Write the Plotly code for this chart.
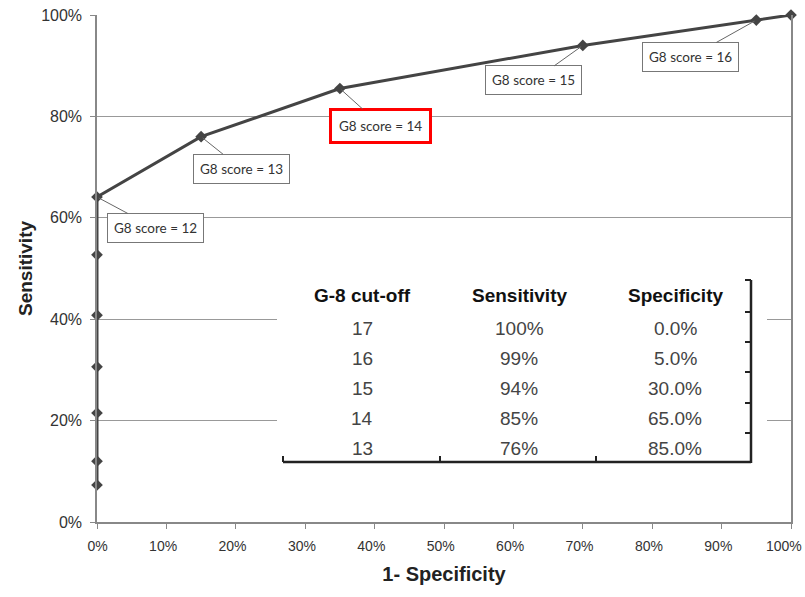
import plotly.graph_objects as go

# ROC curve points (1-specificity, sensitivity)
fpr = [0.0, 0.0, 0.0, 0.0, 0.0, 0.0, 0.0, 0.15, 0.35, 0.70, 0.95, 1.0]
tpr = [0.073, 0.12, 0.215, 0.306, 0.408, 0.527, 0.641, 0.76, 0.855, 0.94, 0.99, 1.0]

# Callout labels: index into the points, text, offset of label box (px)
label_idx = [6, 7, 8, 9, 10]
label_txt = ["G8 score = 12", "G8 score = 13", "G8 score = 14", "G8 score = 15", "G8 score = 16"]
label_ax = [58, 40, 41, -49, -66]
label_ay = [31, 32, 37, 35, 37]
highlight = "G8 score = 14"

# Inset table
tbl_header = ["G-8 cut-off", "Sensitivity", "Specificity"]
tbl_cutoff = ["17", "16", "15", "14", "13"]
tbl_sens = ["100%", "99%", "94%", "85%", "76%"]
tbl_spec = ["0.0%", "5.0%", "30.0%", "65.0%", "85.0%"]

x_ticks = [i / 10 for i in range(11)]
x_ticklabels = [f"{i*10}%" for i in range(11)]
y_ticks = [i / 5 for i in range(6)]
y_ticklabels = [f"{i*20}%" for i in range(6)]

L, R, T, B = 97, 14, 15, 75
W, H = 805, 597
PW, PH = W - L - R, H - T - B

def px(x):
    return (x - L) / PW

def py(y):
    return (H - B - y) / PH

fig = go.Figure()
fig.add_trace(go.Scatter(
    x=fpr, y=tpr, mode="lines+markers", cliponaxis=False,
    line=dict(color="#444444", width=3),
    marker=dict(symbol="diamond", size=9, color="#444444"),
    showlegend=False, hoverinfo="skip",
))

annotations = []
for i, t, ax, ay in zip(label_idx, label_txt, label_ax, label_ay):
    hl = (t == highlight)
    annotations.append(dict(
        x=fpr[i], y=tpr[i], xref="x", yref="y", text=t,
        showarrow=True, arrowhead=0, arrowwidth=1, arrowcolor="#666",
        ax=ax, ay=ay, standoff=2,
        font=dict(family="Lato, Open Sans, sans-serif", size=13.5, color="#333"),
        bgcolor="white", bordercolor="red" if hl else "#777",
        borderwidth=3 if hl else 1, borderpad=7 if hl else 6,
    ))

# table
col_x = [362, 519, 675]
head_y = 295
row_y = [328, 358, 388, 418, 448]
for cx, h in zip(col_x, tbl_header):
    annotations.append(dict(
        x=px(cx), y=py(head_y), xref="x", yref="y", text=f"<b>{h}</b>",
        showarrow=False, font=dict(family="Liberation Sans, Arial", size=19, color="#111"),
    ))
for col, cx in zip([tbl_cutoff, tbl_sens, tbl_spec], col_x):
    for v, ry in zip(col, row_y):
        annotations.append(dict(
            x=px(cx), y=py(ry), xref="x", yref="y", text=v,
            showarrow=False, font=dict(family="Liberation Sans, Arial", size=19, color="#444"),
        ))

shapes = [
    dict(type="rect", xref="x", yref="y", x0=px(277), x1=px(767), y0=py(470), y1=py(272),
         fillcolor="white", line=dict(width=0), layer="above"),
    dict(type="line", xref="x", yref="y", x0=px(283), x1=px(751), y0=py(462), y1=py(462),
         line=dict(color="#222", width=2.5), layer="above"),
    dict(type="line", xref="x", yref="y", x0=px(751), x1=px(751), y0=py(463), y1=py(280),
         line=dict(color="#222", width=2.5), layer="above"),
]
for tx in [283, 440, 596]:
    shapes.append(dict(type="line", xref="x", yref="y", x0=px(tx), x1=px(tx), y0=py(462), y1=py(456),
                       line=dict(color="#222", width=2), layer="above"))
for ty in [280, 312, 342, 372, 403, 433]:
    shapes.append(dict(type="line", xref="x", yref="y", x0=px(745), x1=px(751), y0=py(ty), y1=py(ty),
                       line=dict(color="#222", width=2), layer="above"))

tickfont = dict(family="Liberation Sans Narrow, Liberation Sans, Arial", size=14, color="#333")
fig.update_layout(
    width=W, height=H, margin=dict(l=L, r=R, t=T, b=B, autoexpand=False),
    paper_bgcolor="white", plot_bgcolor="white",
    xaxis=dict(range=[0, 1], tickvals=x_ticks, ticktext=x_ticklabels, showgrid=False,
               automargin=False, ticklabeloverflow="allow", ticklabelstandoff=10,
               ticklabelposition="outside left", ticklabelshift=12,
               zeroline=False, showline=True, linecolor="#888", linewidth=1.5,
               ticks="outside", ticklen=5, tickcolor="#888", tickfont=tickfont,
               title=dict(text="<b>1- Specificity</b>", standoff=14,
                          font=dict(family="Liberation Sans Narrow, Liberation Sans, Arial", size=20, color="#222"))),
    yaxis=dict(range=[0, 1], tickvals=y_ticks, ticktext=y_ticklabels, showgrid=True,
               automargin=False, ticklabeloverflow="allow", ticklabelstandoff=5,
               gridcolor="#999", gridwidth=1, zeroline=False, showline=True, mirror=True,
               linecolor="#888", linewidth=1.5, ticks="outside", ticklen=5, tickcolor="#888",
               tickfont=dict(family="Liberation Sans, Arial", size=16, color="#333"),
               title=dict(text="<b>Sensitivity</b>", standoff=3,
                          font=dict(family="Liberation Sans, Arial", size=19, color="#222"))),
    annotations=annotations, shapes=shapes,
)
fig.write_html("out.html", config={"displayModeBar": False},
               post_script="document.body.style.margin='0';")
